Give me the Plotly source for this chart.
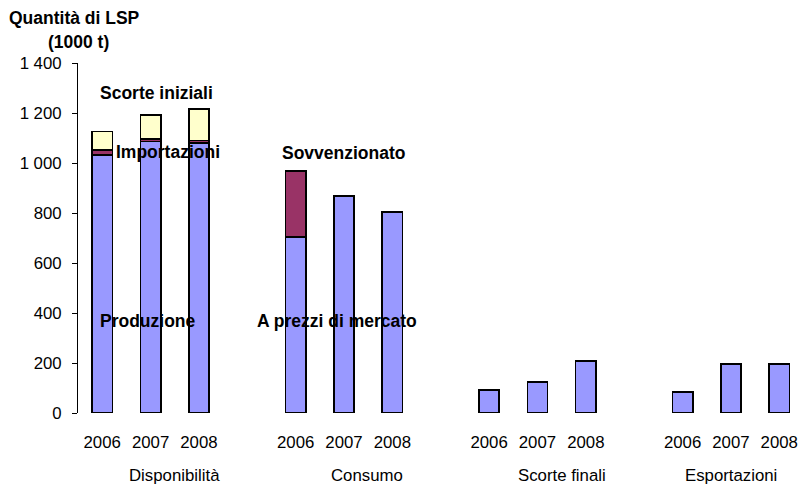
import plotly.graph_objects as go

# Groups and years on the category axis
groups = ["Disponibilità", "Consumo", "Scorte finali", "Esportazioni"]
years = ["2006", "2007", "2008"]

# Quantities in 1000 t, one value per (group, year)
base_values = [1032, 1086, 1080, 703, 868, 805, 92, 125, 209, 83, 195, 197]
mid_values = [20, 10, 10, 265, 0, 0, 0, 0, 0, 0, 0, 0]
top_values = [74, 96, 125, 0, 0, 0, 0, 0, 0, 0, 0, 0]

y_ticks = [0, 200, 400, 600, 800, 1000, 1200, 1400]
y_tick_text = ["0", "200", "400", "600", "800", "1 000", "1 200", "1 400"]

# One empty slot between groups
slots = []
for g in range(len(groups)):
    for k in range(len(years)):
        slots.append(g * (len(years) + 1) + k)
tick_text = years * len(groups)

# Horizontal placement of each group name, in slot units from the group's first bar
name_offsets = [1.5, 1.47, 1.5, 1.0]
name_positions = [g * (len(years) + 1) + off for g, off in enumerate(name_offsets)]

FONT = "Liberation Sans, Arial, sans-serif"
outline = dict(color="#000000", width=1.6)
bar_w = 0.42

fig = go.Figure()
fig.add_trace(go.Bar(x=slots, y=base_values, width=bar_w,
                     marker=dict(color="#9999FF", line=outline)))
fig.add_trace(go.Bar(x=slots, y=mid_values, width=bar_w,
                     marker=dict(color="#993366", line=outline)))
fig.add_trace(go.Bar(x=slots, y=top_values, width=bar_w,
                     marker=dict(color="#FFFFCC", line=outline)))

bold = dict(family=FONT, size=17.5, color="#000000")
plain = dict(family=FONT, size=16.8, color="#000000")

# Series labels written inside the plot
labels = [
    ("<b>Scorte iniziali</b>", 1.13, 1280),
    ("<b>Importazioni</b>", 1.36, 1045),
    ("<b>Sovvenzionato</b>", 5.01, 1041),
    ("<b>Produzione</b>", 0.95, 369),
    ("<b>A prezzi di mercato</b>", 4.86, 369),
]
for text, xx, yy in labels:
    fig.add_annotation(text=text, x=xx, y=yy, xref="x", yref="y",
                       showarrow=False, font=bold, xanchor="center", yanchor="middle")

# Group names below the year labels
for name, c in zip(groups, name_positions):
    fig.add_annotation(text=name, x=c, y=0, xref="x", yref="paper",
                       yshift=-62, showarrow=False, font=plain,
                       xanchor="center", yanchor="middle")

# Value-axis title, two lines above the axis
fig.add_annotation(text="<b>Quantità di LSP</b>", x=0, y=1, xref="paper", yref="paper",
                   xshift=-4, yshift=45, showarrow=False, font=bold,
                   xanchor="center", yanchor="middle")
fig.add_annotation(text="<b>(1000 t)</b>", x=0, y=1, xref="paper", yref="paper",
                   xshift=0, yshift=21, showarrow=False, font=bold,
                   xanchor="center", yanchor="middle")

fig.update_layout(
    width=798, height=486,
    margin=dict(l=78, r=0, t=63, b=73),
    paper_bgcolor="white", plot_bgcolor="white",
    barmode="stack", showlegend=False,
    font=plain,
)

fig.update_xaxes(range=[-0.5, 14.387], tickvals=slots, ticktext=tick_text,
                 showgrid=False, zeroline=False, showline=False, ticks="",
                 tickfont=plain, ticklabelstandoff=17)
fig.update_yaxes(range=[0, 1400], tickvals=y_ticks, ticktext=y_tick_text,
                 showgrid=False, zeroline=False, showline=True, linecolor="#000000",
                 linewidth=1, ticks="outside", ticklen=5, tickcolor="#000000",
                 tickfont=plain, ticklabelstandoff=7)

fig.write_html("out.html")
